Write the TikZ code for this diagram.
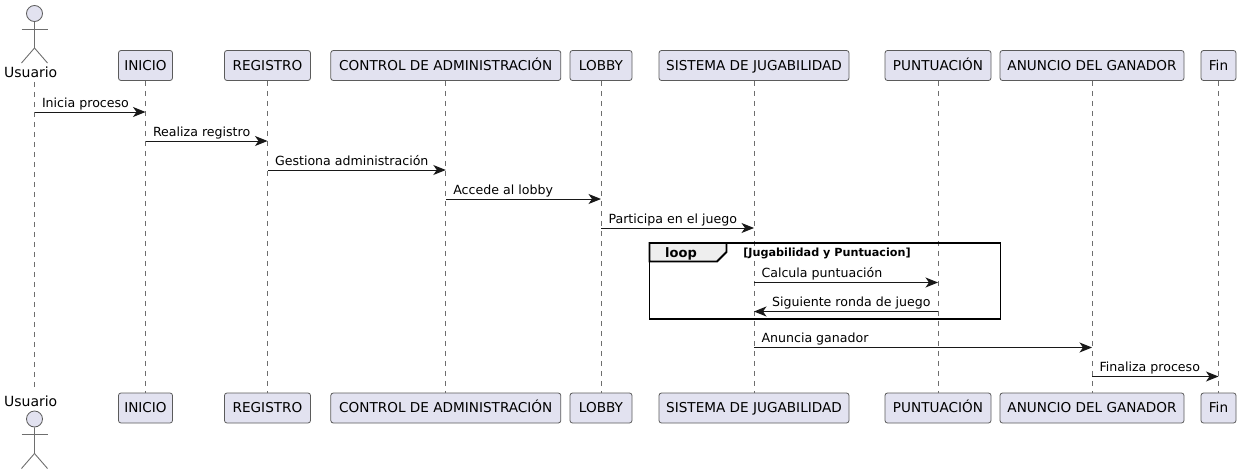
\documentclass[tikz,border=0pt]{standalone}
\usepackage{fontspec}
\setmainfont{DejaVu Sans}
\usetikzlibrary{arrows.meta}
\definecolor{partfill}{HTML}{E2E2F0}
\definecolor{partline}{HTML}{5B5B5B}
\definecolor{lifeline}{HTML}{6E6E6E}
\definecolor{tabfill}{HTML}{EEEEEE}
\definecolor{inkdark}{HTML}{181818}
\tikzset{
  part/.style={rectangle, rounded corners=2.5pt, fill=partfill, draw=partline, line width=0.8pt,
               minimum height=30pt, inner xsep=0pt, inner ysep=0pt, text height=10pt, text depth=1pt,
               font=\fontsize{13.6}{15}\selectfont, text=black},
  head/.style={circle, minimum size=16pt, inner sep=0pt, fill=partfill, draw=partline, line width=0.8pt},
  limb/.style={draw=lifeline, line width=0.9pt},
  actorname/.style={anchor=base, inner sep=4pt, font=\fontsize{14}{16}\selectfont, text=black},
  life/.style={draw=lifeline, line width=0.8pt, dash pattern=on 5pt off 5pt},
  msg/.style={-{Stealth[length=12.5pt,width=10pt,inset=3.5pt]}, draw=inkdark, line width=1pt},
  msgtext/.style={anchor=base west, inner sep=0pt, xshift=7pt, yshift=5pt, font=\fontsize{12.6}{14}\selectfont, text=black},
  msgback/.style={anchor=base east, inner sep=0pt, xshift=-7pt, yshift=5pt, font=\fontsize{12.6}{14}\selectfont, text=black},
  frametab/.style={fill=tabfill, draw=black, line width=1.8pt}
}

\begin{document}
\begin{tikzpicture}[x=1pt, y=-1pt]
        \useasboundingbox (0,0) rectangle (1240,474);

        % --- Participants, top row
        \node[actorname] (usuario) at (30.7,77.5) {Usuario};
        \node[part, minimum width=54pt] (inicio) at (145.5,65.5) {INICIO};
        \node[part, minimum width=86pt] (registro) at (267.5,65.5) {REGISTRO};
        \node[part, minimum width=230pt] (control) at (445.8,65.5) {CONTROL DE ADMINISTRACIÓN};
        \node[part, minimum width=62pt] (lobby) at (601,65.5) {LOBBY};
        \node[part, minimum width=190pt] (sistema) at (754,65.5) {SISTEMA DE JUGABILIDAD};
        \node[part, minimum width=106pt] (puntuacion) at (938,65.5) {PUNTUACIÓN};
        \node[part, minimum width=184pt] (anuncio) at (1092,65.5) {ANUNCIO DEL GANADOR};
        \node[part, minimum width=35pt] (fin) at (1218.5,65.5) {Fin};

        % --- Participants, bottom row
        \node[actorname] (usuarioB) at (30.7,406.5) {Usuario};
        \node[part, minimum width=54pt] (inicioB) at (145.5,408) {INICIO};
        \node[part, minimum width=86pt] (registroB) at (267.5,408) {REGISTRO};
        \node[part, minimum width=230pt] (controlB) at (445.8,408) {CONTROL DE ADMINISTRACIÓN};
        \node[part, minimum width=62pt] (lobbyB) at (601,408) {LOBBY};
        \node[part, minimum width=190pt] (sistemaB) at (754,408) {SISTEMA DE JUGABILIDAD};
        \node[part, minimum width=106pt] (puntuacionB) at (938,408) {PUNTUACIÓN};
        \node[part, minimum width=184pt] (anuncioB) at (1092,408) {ANUNCIO DEL GANADOR};
        \node[part, minimum width=35pt] (finB) at (1218.5,408) {Fin};

        % --- Actor figures
        \node[head] (headT) at (34.5,13.5) {};
        \draw[limb] (headT) -- (34.5,48) -- (21.5,63);
        \draw[limb] (34.5,48) -- (47.5,63);
        \draw[limb] (21.5,29) -- (47.5,29);
        \node[head] (headB) at (34.5,419) {};
        \draw[limb] (headB) -- (34.5,453.5) -- (21.5,468.5);
        \draw[limb] (34.5,453.5) -- (47.5,468.5);
        \draw[limb] (21.5,434) -- (47.5,434);

        % --- Lifelines
        \draw[life] (headT |- usuario.south) -- (headT |- usuarioB.north);
        \draw[life] (inicio) -- (inicioB);
        \draw[life] (registro) -- (registroB);
        \draw[life] (control) -- (controlB);
        \draw[life] (lobby) -- (lobbyB);
        \draw[life] (sistema) -- (sistemaB);
        \draw[life] (puntuacion) -- (puntuacionB);
        \draw[life] (anuncio) -- (anuncioB);
        \draw[life] (fin) -- (finB);

        % --- Message rows
        \coordinate (r1) at (0,112);
        \coordinate (r2) at (0,141);
        \coordinate (r3) at (0,170);
        \coordinate (r4) at (0,199);
        \coordinate (r5) at (0,228);
        \coordinate (r6) at (0,282.5);
        \coordinate (r7) at (0,311.5);
        \coordinate (r8) at (0,347.5);
        \coordinate (r9) at (0,376.5);

        % --- Messages before the loop
        \draw[msg] (headT |- r1) -- (inicio |- r1) node[pos=0, msgtext] (m1) {Inicia proceso};
        \draw[msg] (inicio |- r2) -- (registro |- r2) node[pos=0, msgtext] (m2) {Realiza registro};
        \draw[msg] (registro |- r3) -- (control |- r3) node[pos=0, msgtext] (m3) {Gestiona administración};
        \draw[msg] (control |- r4) -- (lobby |- r4) node[pos=0, msgtext] (m4) {Accede al lobby};
        \draw[msg] (lobby |- r5) -- (sistema |- r5) node[pos=0, msgtext] (m5) {Participa en el juego};

        % --- Loop frame
        \draw[frametab] (649.5,243) -- (726.5,243) -- (726.5,252) -- (717,261.5) -- (649.5,261.5) -- cycle;
        \draw[draw=black, line width=1.8pt] (649.5,243) rectangle (1000.5,319);
        \node[anchor=base, inner sep=0pt, font=\fontsize{13}{15}\selectfont\bfseries] (looptag) at (681,257) {loop};
        \node[anchor=base, inner sep=0pt, font=\fontsize{11.2}{13}\selectfont\bfseries] (loopcond) at (827,256) {[Jugabilidad y Puntuacion]};

        % --- Messages inside the loop
        \draw[msg] (sistema |- r6) -- (puntuacion |- r6) node[pos=0, msgtext] (m6) {Calcula puntuación};
        \draw[msg] (puntuacion |- r7) -- (sistema |- r7) node[pos=0, msgback] (m7) {Siguiente ronda de juego};

        % --- Messages after the loop
        \draw[msg] (sistema |- r8) -- (anuncio |- r8) node[pos=0, msgtext] (m8) {Anuncia ganador};
        \draw[msg] (anuncio |- r9) -- (fin |- r9) node[pos=0, msgtext] (m9) {Finaliza proceso};

\end{tikzpicture}
\end{document}
